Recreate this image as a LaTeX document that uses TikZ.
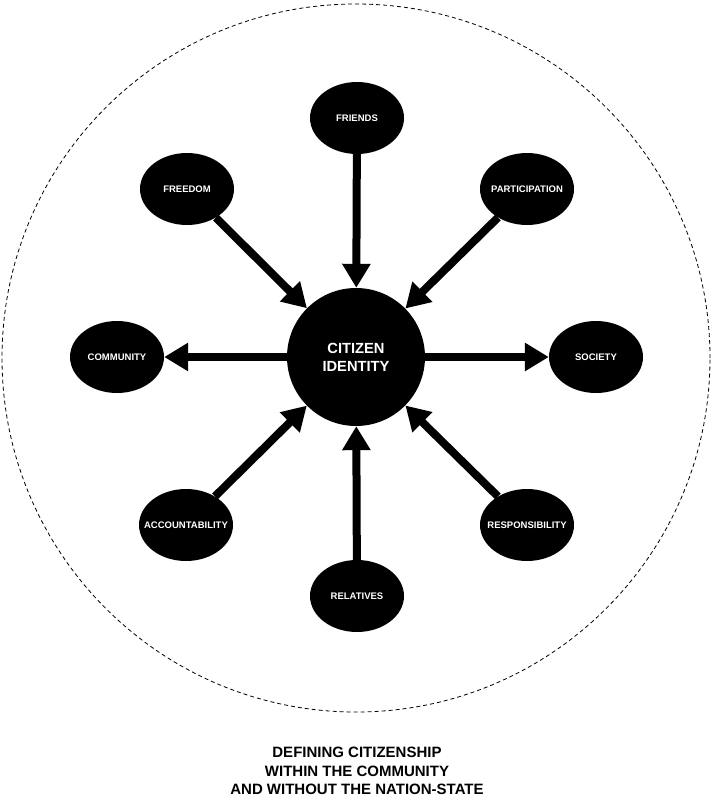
\documentclass[tikz,border=0pt]{standalone}
\usepackage{fontspec}
\setmainfont{Liberation Sans}
\usetikzlibrary{arrows.meta, shapes.geometric}
\tikzset{
    value/.style = { ellipse, fill=black, text=white, minimum width=94pt, minimum height=72pt, inner sep=0pt, font=\bfseries\fontsize{9.5}{11}\selectfont },
    core/.style = { circle, fill=black, text=white, minimum size=138pt, inner sep=0pt, align=center, font=\bfseries\fontsize{14.7}{18}\selectfont },
    link/.style = { line width=8pt, ->, >={Triangle[length=24pt, width=27pt]} },
    border/.style = { dash pattern=on 4pt off 3pt, line width=0.8pt },
    caption/.style = { align=center, font=\bfseries\fontsize{15}{18.5}\selectfont }
}

\begin{document}
\begin{tikzpicture}[
    x=1pt, y=-1pt,
    value/.style = { ellipse, fill=black, text=white, minimum width=94pt, minimum height=72pt, inner sep=0pt, font=\bfseries\fontsize{9.5}{11}\selectfont },
    core/.style = { circle, fill=black, text=white, minimum size=138pt, inner sep=0pt, align=center, font=\bfseries\fontsize{14.7}{18}\selectfont }
    ]
    %%% Positions are pixels of the 713 x 797 sheet, y counted downwards.
    \useasboundingbox (0,0) rectangle (713,797);

    %%%
    %%% Outer boundary
    %%%
    \draw[border] (356,358) circle (354pt);

    %%%
    %%% Centre and the values round it
    %%%
    \node[core] (identity) at (356,357) {CITIZEN\\IDENTITY};
    % Name, x, y, text (zero-width box so that long words do not widen the ellipse)
    \foreach \name / \x / \y / \word in {friends/357/118/FRIENDS, freedom/187/189/FREEDOM, participation/527/189/PARTICIPATION, community/117/357/COMMUNITY, society/596/357/SOCIETY, accountability/186/525/ACCOUNTABILITY, relatives/357/596/RELATIVES, responsibility/527/525/RESPONSIBILITY}
      {
        \node[value] (\name) at (\x,\y) {\makebox[0pt]{\word}};
      }

    %%%
    %%% Arrows
    %%%
    % Into the centre
    \foreach \name in {friends, freedom, participation, accountability, relatives, responsibility}
      {
        \draw[link] (\name) -- (identity);
      }
    % Out of the centre
    \foreach \name in {community, society}
      {
        \draw[link] (identity) -- (\name);
      }

    %%%
    %%% Caption
    %%%
    \node[caption] (title) at (357,771) {DEFINING CITIZENSHIP\\WITHIN THE COMMUNITY\\AND WITHOUT THE NATION-STATE};
\end{tikzpicture}
\end{document}
